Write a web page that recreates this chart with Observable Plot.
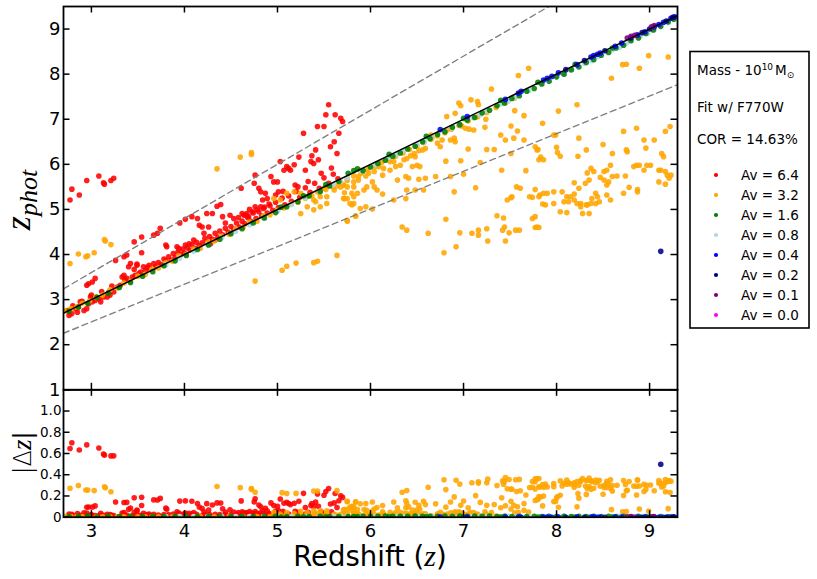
<!DOCTYPE html>
<html><head><meta charset="utf-8">
<script src="https://cdn.jsdelivr.net/npm/d3@7"></script>
<script src="https://cdn.jsdelivr.net/npm/@observablehq/plot@0.6"></script>
<style>
body{margin:0;background:#fff;font-family:"DejaVu Sans",sans-serif;}
#wrap{position:relative;width:817px;height:579px;overflow:hidden;background:#fff;}
#resid{position:absolute;left:0;top:389px;}
#main{position:absolute;left:0;top:0;}
#over{position:absolute;left:0;top:0;pointer-events:none;}
</style>
</head><body>
<div id="wrap"><div id="resid"></div><div id="main"></div><svg id="over" width="817" height="579"></svg></div>
<script>
// ---- axes ----
const xTicks = [3,4,5,6,7,8,9];
const yTicksMain = [1,2,3,4,5,6,7,8,9];
const yTicksResid = [0,0.2,0.4,0.6,0.8,1.0];
const xDomain = [2.7, 9.3];
const yDomainMain = [1, 9.5];
const yDomainResid = [0, 1.2];
const upperFactor = 1.2, lowerFactor = 0.835;

// ---- data: [z_true, z_phot] ----
const av64 = [
[2.77,5.21],[2.79,5.45],[2.87,5.32],[2.95,5.64],[3.08,5.74],[3.13,5.59],[3.14,5.56],[3.21,5.64],[3.24,5.69],
[2.76,2.65],[2.79,2.69],[2.74,2.76],[2.83,2.80],[2.86,2.84],[2.85,2.72],[2.88,2.95],[2.92,2.76],[2.95,2.80],[2.97,2.91],[2.99,3.06],[3.01,2.95],[2.97,3.35],[3.01,3.39],[3.04,3.47],[2.95,3.32],[3.04,2.98],[3.08,3.02],[3.10,2.95],[3.13,3.06],[3.17,3.06],[3.20,3.10],[3.19,3.17],[3.24,3.17],[3.28,3.28],[3.31,3.32],[3.33,3.50],[3.35,3.54],[3.38,3.47],[3.40,3.73],[3.44,3.50],[3.47,3.54],[3.49,3.76],[3.53,3.61],[3.56,3.73],[3.58,3.65],[3.62,3.76],[3.63,3.69],[3.67,3.80],[3.69,3.73],[3.42,3.80],
[3.26,3.87],[3.35,3.95],[3.38,3.99],[3.54,4.04],[3.49,3.79],[3.46,3.67],[3.46,4.28],[3.54,4.39],[3.71,4.47],[3.74,4.58],[3.67,4.43],[3.80,4.21],[3.81,4.17],[3.92,4.17],[3.94,4.13],[4.01,4.21],[4.05,4.24],[4.10,4.32],[3.95,4.70],[4.01,4.78],[4.08,4.84],[4.14,4.80],[4.16,4.65],[4.19,4.61],[4.26,4.61],[4.24,4.91],[4.30,4.91],[4.35,5.07],[4.39,5.11],[4.41,4.84],[4.49,4.87],[4.53,4.80],[4.62,4.91],[4.66,4.87],[4.69,4.84],[4.73,4.95],[4.28,4.24],[4.21,4.47],[4.33,4.32],[4.61,5.47],[4.75,5.58],[4.76,5.76],[4.80,5.47],[4.82,5.39],[4.87,5.36],[4.84,5.21],[4.89,5.24],[4.93,5.73],[4.96,5.61],[5.00,5.61],[5.01,5.39],[5.03,6.06],[5.07,5.87],[5.10,5.95],[5.12,5.91],[5.14,5.87],[5.18,5.99],[5.19,5.54],[5.23,6.16],[5.30,5.87],[5.28,6.69],[5.36,6.06],[5.37,6.19],[5.39,6.02],[5.41,6.32],[5.43,6.84],[5.44,6.10],[5.50,6.84],[5.52,7.10],[5.55,7.32],[5.57,6.39],[5.61,6.50],[5.62,7.10],[5.64,6.24],[5.66,6.69],[5.68,7.02],[5.70,6.95],[4.64,4.87],[4.67,4.91],[4.78,4.99],[4.82,5.06],[4.85,5.02],[4.76,5.06],[4.98,5.32],
[3.72,3.82],[3.75,3.78],[3.78,3.90],[3.80,3.86],[3.83,3.95],[3.86,3.88],[3.88,4.02],[3.90,3.93],[3.93,4.05],[3.96,4.00],[3.98,4.12],[4.00,4.03],[4.03,4.15],[4.06,4.10],[4.08,4.22],[4.11,4.14],[4.13,4.27],[4.16,4.20],[4.19,4.26],[4.22,4.36],[4.24,4.28],[4.27,4.40],[4.30,4.34],[4.33,4.47],[4.36,4.39],[4.38,4.52],[4.41,4.44],[4.44,4.58],[4.47,4.50],[4.50,4.62],[4.53,4.56],[4.56,4.70],[4.59,4.61],[4.62,4.74],[4.65,4.68],[4.68,4.82],[4.71,4.74],[4.74,4.92],[4.77,4.80],[4.80,4.95],[4.83,4.86],[4.86,5.05],[4.89,4.92],[4.92,5.08],[4.95,4.98],[4.98,5.16],[5.01,5.04],[5.05,5.25],[5.08,5.10],[5.12,5.30],[5.15,5.18],[5.20,5.40],[5.24,5.27],[5.30,5.48],[5.35,5.38],[5.40,5.58],[5.45,5.47],[5.50,5.70],[5.55,5.58],[5.60,5.78],[5.65,5.68],
[2.80,2.86],[2.90,2.96],[3.00,3.10],[3.11,3.18],[3.22,3.30],[3.36,3.44],[3.51,3.58],[3.60,3.72],[4.44,4.70],[4.58,4.82],[4.70,5.00],[4.91,5.12],[5.06,5.40],[5.22,5.50],[5.33,5.62],[5.47,5.80],[5.58,5.92]
];
const av32 = [
[2.77,3.80],[2.86,4.01],[2.94,3.95],[2.96,3.97],[3.03,4.04],[3.14,4.33],[3.15,4.30],[3.21,4.22],
[4.35,5.90],[4.60,6.16],[4.72,6.26],[4.72,6.22],[4.76,3.41],[5.05,3.65],[5.10,3.74],[5.20,3.81],[5.39,3.82],[5.43,3.85],[5.64,3.98],
[2.72,2.75],[2.78,2.80],[2.84,2.83],[2.90,2.92],[2.98,2.97],[3.05,3.06],[3.12,3.10],[3.20,3.22],[3.28,3.26],[3.35,3.37],[3.42,3.40],[3.50,3.52],[3.58,3.56],[3.65,3.67],[3.72,3.70],[3.80,3.82],[3.87,3.85],[3.94,3.97],[4.02,4.00],[4.10,4.12],[4.17,4.14],[4.25,4.27],[4.32,4.30],[4.40,4.41],[4.48,4.45],[4.55,4.57],[4.63,4.60],[4.70,4.72],[4.78,4.74],[4.85,4.86],[4.92,4.88],[5.00,4.98],[5.07,5.03],[5.15,5.12],[5.22,5.16],[5.30,5.25],[5.37,5.30],[5.45,5.38],[5.52,5.44],[5.60,5.50],[5.67,5.60],
[4.96,5.24],[5.03,5.21],[5.10,5.36],[5.18,5.39],[5.25,5.36],[5.32,5.28],[5.39,5.21],[5.46,5.28],[5.53,5.28],[5.61,5.43],[5.68,5.50],[5.71,5.54],[5.75,5.50],[5.82,5.50],[5.87,5.73],[5.25,4.91],[5.32,5.06],[5.39,4.99],[5.46,5.06],[5.53,5.13],[5.41,5.17],[5.75,4.76],[5.82,5.13],[5.84,4.85],[5.71,5.24],[5.64,5.52],[5.43,5.39],[5.50,5.47],
[7.70,8.13],[7.59,7.97],[7.30,7.67],[8.71,8.21],[8.75,8.22],[8.89,8.13],[8.99,8.41],[9.20,8.38],[8.59,7.91],[8.22,7.32],[8.02,7.18],[7.55,7.19],[7.65,7.08],[7.24,7.00],[7.08,7.43],[7.15,7.39],[7.16,7.32],[6.95,7.36],[6.97,7.30],[6.91,7.13],[6.82,7.06],
[6.98,6.85],[7.02,6.80],[7.06,6.78],[7.11,6.76],[7.23,6.82],
[6.82,6.76],[6.86,6.54],[6.91,6.50],[6.90,6.58],[6.77,6.54],[6.72,6.47],[6.75,6.39],[6.65,6.65],[6.66,6.59],
[6.59,6.35],[6.56,6.32],[6.52,6.30],[6.47,6.24],[6.48,6.17],[6.43,6.19],[6.39,6.13],[6.36,6.10],
[6.32,5.98],[6.25,6.06],[6.21,6.06],[6.27,5.95],
[6.14,5.91],[6.09,5.95],[6.04,5.84],[5.98,5.80],[5.95,5.74],[5.89,5.87],[5.87,5.65],[5.82,5.61],[5.75,5.64],[5.71,5.54],[5.72,5.37],
[6.50,5.98],[6.53,5.95],[6.45,5.95],[6.38,5.73],[6.41,5.69],[6.52,5.67],[6.29,5.65],
[6.21,5.87],[6.13,5.76],[6.02,5.61],[5.96,5.50],[5.93,5.43],[5.86,5.36],[5.80,5.36],[5.82,5.28],[5.78,5.13],[5.80,5.10],[5.75,5.24],[5.72,5.24],
[5.95,5.06],[6.02,5.01],[5.84,4.86],[5.75,4.74],[5.89,5.02],
[6.04,5.50],[6.13,5.34],[6.07,5.43],[6.25,5.21],[6.38,5.24],[6.39,5.43],[6.48,5.43],[6.57,5.43],[6.59,5.69],[6.70,5.73],[6.81,6.07],[6.86,5.73],[6.97,6.08],[7.00,5.78],[7.13,5.48],[6.90,5.39],
[6.34,4.61],[6.39,4.54],[6.62,4.47],[6.81,4.78],[6.79,4.04],[6.92,4.17],[6.96,4.48],[7.09,4.47],[7.16,4.54],[7.16,4.43],[7.25,4.57],[7.26,4.30],[7.36,4.86],[7.43,4.81],[7.44,4.61],[7.42,4.54],[7.49,4.48],[7.45,4.30],[7.56,4.54],[7.60,4.54],[7.52,5.28],[7.57,5.50],[7.61,5.47],[7.47,5.21],[7.51,5.26],
[7.40,6.65],[7.51,6.85],[7.45,6.54],[7.54,6.58],[7.58,6.74],[7.65,6.54],[7.25,6.33],[7.33,6.33],[7.51,6.24],[7.05,6.34],[7.18,6.04],[7.41,5.87],[7.67,5.86],[7.74,5.27],[7.77,5.44],[7.82,5.32],[7.86,5.36],[7.90,5.36],[7.97,5.39],[8.06,5.39],[8.11,5.28],[8.15,5.28],[8.19,5.21],[8.22,5.13],[8.26,5.13],[8.28,4.91],[8.35,4.91],[8.33,5.10],[8.37,5.13],[8.42,5.13],[8.46,5.17],[8.44,5.28],[8.38,5.24],[8.19,5.59],[8.24,5.47],[8.31,5.58],[8.35,5.65],[8.33,5.81],[8.37,5.91],[8.40,5.84],[8.47,5.71],[8.51,5.84],[8.54,5.87],[8.51,5.65],[8.54,5.54],[8.56,5.61],[8.58,5.98],[8.60,5.73],[8.65,5.74],[8.74,5.74],[8.76,6.28],[8.83,5.95],[8.86,5.98],[8.89,5.98],[8.94,5.87],[8.96,6.36],[8.97,5.98],[9.01,5.98],[9.05,6.54],[9.13,6.24],[9.15,6.17],[9.17,6.73],[9.22,6.84],[9.10,5.87],[9.12,5.87],[9.17,5.84],[9.19,5.76],[9.23,5.76],[9.21,5.69],[9.10,5.61],[9.17,5.56],[8.72,5.36],[8.78,5.49],[8.87,5.44],[8.87,5.39],[8.54,5.32],[8.58,5.21],[8.42,5.36],[8.08,5.17],[8.04,4.95],[8.11,4.93],[7.85,5.12],[7.88,5.10],[7.81,5.28],[7.77,4.84],[7.74,4.80],[7.79,4.61],[7.81,4.60],[7.77,4.60],[7.97,6.65],[8.00,6.38],[7.99,6.65],[8.04,6.18],[8.24,6.58],[8.23,6.18],[8.32,6.32],[8.50,6.44],[8.60,6.24],[8.75,6.32],[8.94,6.54],[8.86,6.80],[8.72,6.73],[7.85,6.91],[8.01,6.26],[7.81,6.10],[7.83,6.16],[7.79,6.32],[7.71,5.28],[7.97,5.13],[8.19,5.34],[8.13,5.17],[8.26,5.06],[8.32,5.10],[7.86,6.10],[7.77,6.39],[7.80,6.33],
[5.75,5.68],[5.82,5.74],[5.90,5.80],[5.97,5.88],[6.05,5.95],[6.12,6.04],[6.20,6.10],[6.27,6.18],[6.35,6.25],[6.42,6.33],[6.50,6.40],[6.57,6.48],[6.65,6.55],[6.72,6.63],[6.80,6.70],[6.87,6.78],[6.95,6.86],[7.05,6.96],[7.15,7.05],[7.25,7.15],[7.35,7.26],[7.45,7.36],[7.55,7.47]
];
const av16 = [
[2.76,2.74],[2.86,2.83],[2.96,2.92],[3.06,3.05],[3.18,3.14],[3.30,3.27],[3.42,3.38],[3.55,3.52],[3.66,3.62],[3.78,3.75],[3.90,3.86],[4.02,3.98],[4.14,4.11],[4.26,4.21],[4.38,4.34],[4.50,4.46],[4.62,4.57],[4.74,4.70],[4.86,4.81],[4.98,4.93],[5.10,5.06],[5.22,5.17],[5.34,5.30],[5.46,5.40],[5.56,5.52],[5.66,5.62],[5.76,5.80],[5.82,5.86],[5.86,5.90],[5.92,5.86],[6.00,5.94],[6.08,6.02],[6.16,6.09],[6.24,6.18],[6.32,6.25],[6.40,6.34],[6.48,6.40],[6.56,6.50],[6.64,6.57],[6.72,6.66],[6.80,6.72],[6.88,6.82],[6.96,6.88],[7.04,6.98],[7.12,7.04],[7.20,7.14],[7.28,7.20],[7.36,7.30],[7.44,7.36],[7.52,7.46],[7.60,7.52],[7.68,7.62],[7.76,7.68],[7.84,7.78],[7.92,7.84],[8.00,7.94],[8.08,8.00],[8.16,8.10],[8.24,8.16],[8.32,8.26],[8.40,8.32],[8.48,8.42],[8.56,8.48],[8.64,8.58],[8.72,8.64],[8.80,8.74],[8.88,8.80],[8.96,8.90],[9.04,8.98],[9.12,9.06],[9.20,9.16],[9.26,9.22],
[5.04,5.05],[5.28,5.30],[5.52,5.55],[6.20,6.22],[6.60,6.62],[7.00,7.02],[7.40,7.42],[7.80,7.82],[8.20,8.22],[8.60,8.58]
];
const av08 = [
[3.80,3.77],[3.95,3.92],[4.10,4.07],[4.25,4.22],[4.40,4.37],[4.55,4.51],[4.70,4.66],[4.85,4.81],[5.00,4.96],[5.15,5.11],[5.30,5.26],[5.45,5.41],[5.60,5.55],[5.75,5.70],[5.90,5.85],[6.05,6.00],[6.20,6.15],[6.35,6.30],[6.50,6.44],[6.65,6.59],[6.80,6.74],[6.95,6.89],[7.10,7.04],[7.25,7.19],[7.40,7.34],[7.55,7.49],[7.70,7.64],[7.85,7.79],[8.00,7.94],[8.15,8.09],[8.30,8.24],[8.45,8.39],[8.60,8.54],[8.75,8.69],[8.90,8.84],[9.05,8.99],[9.20,9.14],[7.18,7.10],[7.48,7.40],[8.08,8.00],[8.38,8.30],[8.68,8.60],[8.98,8.90],[6.58,6.50],[6.88,6.80],[5.68,5.62],[6.28,6.22]
];
const av04 = [
[6.75,6.77],[7.04,7.06],[7.45,7.44],[7.59,7.58],[7.62,7.62],[7.86,7.87],[7.90,7.91],[7.95,7.95],[8.02,8.03],[8.22,8.21],[8.37,8.38],[8.40,8.41],[8.44,8.44],[8.47,8.47],[8.63,8.62],[8.70,8.69],[8.87,8.87],[8.95,8.94],[9.05,9.05],[9.10,9.10],[9.15,9.15],[9.23,9.24],[9.27,9.27]
];
const av02 = [
[8.10,8.10],[8.30,8.30],[8.52,8.52],[8.80,8.80],[8.92,8.92],[9.00,9.00],[9.18,9.18],[9.25,9.26],[9.12,4.07]
];
const av01 = [
[8.76,8.80],[8.80,8.84],[8.84,8.86],[9.02,9.05],[9.05,9.08]
];
const av00 = [];

const avLabels = ["Av = 6.4","Av = 3.2","Av = 1.6","Av = 0.8","Av = 0.4","Av = 0.2","Av = 0.1","Av = 0.0"];
const avColors = ["#ff0000","#ffa500","#008000","#add8e6","#0000ff","#00008b","#800080","#ff00ff"];
const avData = [av64, av32, av16, av08, av04, av02, av01, av00];
const drawOrder = [0,1,3,2,4,5,6,7];

const toRows = d => d.map(([z, zp]) => ({z, zp, dz: Math.abs(zp - z) / (1 + z)}));

const W = 817, ML = 63, MR = 140;
const innerW = W - ML - MR;
const mainH = 390, mainMT = 6, mainMB = 0.7, innerMain = mainH - mainMT - mainMB;
const resH = 190, resMT = 0.3, resMB = 62.3, innerRes = resH - resMT - resMB;
const tk = 6.5, tkw = 1.5;
const ptR = 2.8, ptOp = 0.88;

function tickMarks(yt, innerH) {
  return [
    Plot.tickX(xTicks, {x: d => d, insetTop: innerH - tk, strokeWidth: tkw}),
    Plot.tickX(xTicks, {x: d => d, insetBottom: innerH - tk, strokeWidth: tkw}),
    Plot.tickY(yt, {y: d => d, insetRight: innerW - tk, strokeWidth: tkw}),
    Plot.tickY(yt, {y: d => d, insetLeft: innerW - tk, strokeWidth: tkw})
  ];
}
const styleObj = {fontFamily: "DejaVu Sans", background: "transparent", overflow: "visible"};

const mainDots = drawOrder.map(i => Plot.dot(toRows(avData[i]), {x: "z", y: "zp", r: ptR, fill: avColors[i], fillOpacity: ptOp, clip: true}));
const resDots = drawOrder.map(i => Plot.dot(toRows(avData[i]), {x: "z", y: "dz", r: ptR, fill: avColors[i], fillOpacity: ptOp, clip: true}));

const lineRows = f => xDomain.map(z => ({z, zp: z * f}));

const mainPlot = Plot.plot({
  width: W, height: mainH, marginLeft: ML, marginRight: MR, marginTop: mainMT, marginBottom: mainMB,
  style: styleObj,
  x: {domain: xDomain, axis: null},
  y: {domain: yDomainMain, axis: null},
  marks: [
    ...mainDots,
    Plot.line(lineRows(1), {x: "z", y: "zp", stroke: "black", strokeWidth: 1.5, clip: true}),
    Plot.line(lineRows(upperFactor), {x: "z", y: "zp", stroke: "#808080", strokeWidth: 1.4, strokeDasharray: "6,4", clip: true}),
    Plot.line(lineRows(lowerFactor), {x: "z", y: "zp", stroke: "#808080", strokeWidth: 1.4, strokeDasharray: "6,4", clip: true}),
    ...tickMarks(yTicksMain, innerMain),
    Plot.frame({stroke: "black", strokeWidth: 1.8}),
    Plot.text(yTicksMain, {y: d => d, frameAnchor: "left", textAnchor: "end", dx: -3, text: d => String(d), fontSize: 18})
  ]
});
document.getElementById("main").appendChild(mainPlot);

const resPlot = Plot.plot({
  width: W, height: resH, marginLeft: ML, marginRight: MR, marginTop: resMT, marginBottom: resMB,
  style: styleObj,
  x: {domain: xDomain, axis: null},
  y: {domain: yDomainResid, axis: null},
  marks: [
    ...resDots,
    ...tickMarks(yTicksResid, innerRes),
    Plot.frame({stroke: "black", strokeWidth: 1.8}),
    Plot.text(yTicksResid, {y: d => d, frameAnchor: "left", textAnchor: "end", dx: -2, text: d => d === 0 ? "0" : d.toFixed(1), fontSize: 13.5}),
    Plot.text(xTicks, {x: d => d, frameAnchor: "bottom", lineAnchor: "top", dy: 7.5, text: d => String(d), fontSize: 18})
  ]
});
document.getElementById("resid").appendChild(resPlot);

// ---- labels & legend overlay ----
const ov = d3.select("#over");
const xl = ov.append("text").attr("x", 370).attr("y", 566).attr("text-anchor", "middle")
  .attr("font-family", "DejaVu Sans").attr("font-size", 27.5);
xl.append("tspan").text("Redshift (");
xl.append("tspan").attr("font-family", "Liberation Serif").attr("font-style", "italic").attr("font-size", 30).text("z");
xl.append("tspan").text(")");

const yl = ov.append("text").attr("transform", "translate(30,200) rotate(-90)").attr("text-anchor", "middle")
  .attr("font-family", "Liberation Serif").attr("font-style", "italic");
yl.append("tspan").attr("font-size", 36).text("z");
yl.append("tspan").attr("font-size", 26).attr("dy", 7).text("phot");

const rl = ov.append("text").attr("transform", "translate(31,453) rotate(-90)").attr("text-anchor", "middle")
  .attr("font-family", "DejaVu Sans").attr("font-size", 24);
rl.append("tspan").attr("font-weight", "300").text("|Δ");
rl.append("tspan").attr("font-family", "Liberation Serif").attr("font-style", "italic").attr("font-size", 27).text("z");
rl.append("tspan").text("|");

const lg = ov.append("g");
lg.append("rect").attr("x", 690).attr("y", 51.5).attr("width", 119).attr("height", 276.5)
  .attr("fill", "white").attr("stroke", "black").attr("stroke-width", 1.6);
const t1 = lg.append("text").attr("x", 697).attr("y", 75).attr("font-size", 13.5).attr("font-family", "DejaVu Sans");
t1.append("tspan").text("Mass - 10");
t1.append("tspan").attr("font-size", 9).attr("dy", -5).text("10");
t1.append("tspan").attr("dy", 5).attr("dx", 2).text("M");
t1.append("tspan").attr("font-size", 9).attr("dy", 3).text("⊙");
lg.append("text").attr("x", 697).attr("y", 112).attr("font-size", 13.5).attr("font-family", "DejaVu Sans").text("Fit w/ F770W");
lg.append("text").attr("x", 697).attr("y", 144).attr("font-size", 13.5).attr("font-family", "DejaVu Sans").text("COR = 14.63%");
avLabels.forEach((lab, i) => {
  const cy = 175 + i * 20;
  lg.append("circle").attr("cx", 716).attr("cy", cy).attr("r", 2.1).attr("fill", avColors[i]);
  lg.append("text").attr("x", 741).attr("y", cy + 4.8).attr("font-size", 13.5).attr("font-family", "DejaVu Sans").text(lab);
});
</script>
</body></html>
